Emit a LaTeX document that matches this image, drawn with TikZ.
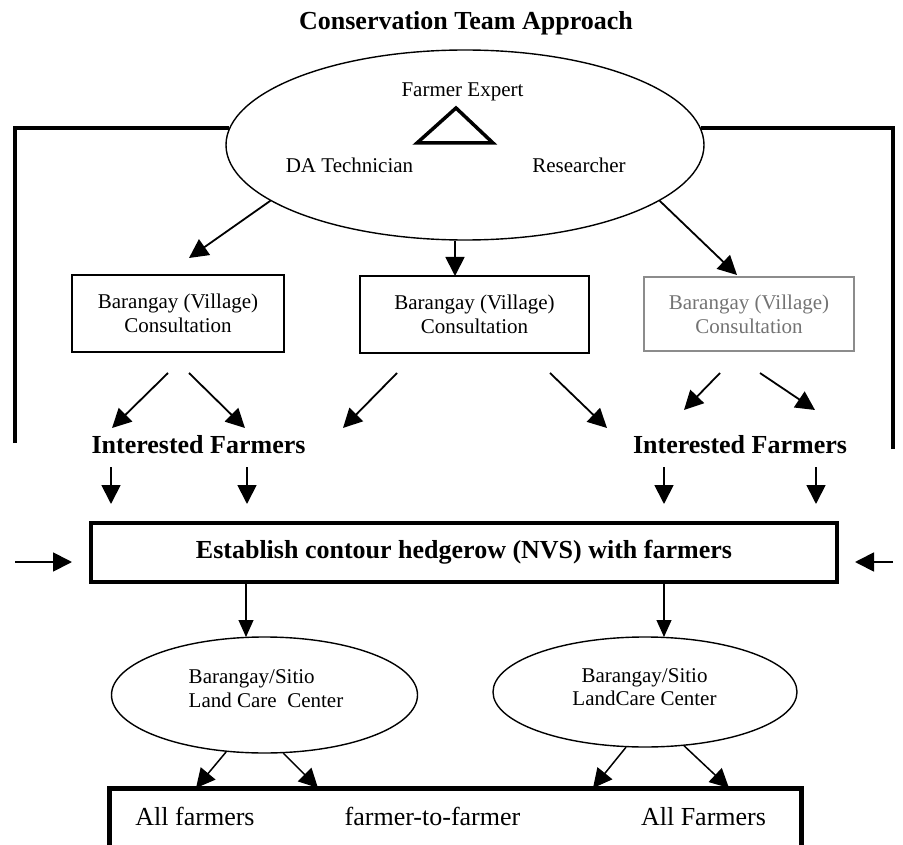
\documentclass[tikz,border=0pt]{standalone}
\usepackage{fontspec}
\setmainfont{Liberation Serif}
\usetikzlibrary{arrows.meta,shapes.geometric}
\newcommand\fsreg{\fontsize{21}{24}\selectfont}
\newcommand\fsbig{\fontsize{26}{30}\selectfont}
\begin{document}
\begin{tikzpicture}[x=1pt,y=-1pt,
		arr/.style={line width=1.8pt,-{Triangle[length=19pt,width=19pt]}},
		thinarr/.style={line width=1.1pt,-{Triangle[length=17pt,width=15pt]}},
		frame/.style={line width=4pt,line join=miter},
		cbox/.style={draw,line width=1.8pt,minimum width=212pt,minimum height=77pt,inner sep=0pt,align=center,font=\fsreg},
		lbl/.style={anchor=base,inner sep=0pt,font=\fsreg}]
		\useasboundingbox (0,0) rectangle (903,845);
		% team
		\node[lbl,font=\fsbig\bfseries] (title) at (466,30) {Conservation Team Approach};
		\node[draw,ellipse,line width=1.4pt,minimum width=478pt,minimum height=190pt,inner sep=0pt] (team) at (465,145) {};
		\node[lbl] (expert) at (462.5,97) {Farmer Expert};
		\node[lbl] (tech) at (349.5,173) {DA Technician};
		\node[lbl] (res) at (579,173) {Researcher};
		\draw[line width=3.5pt,line join=miter] (456,108)--(493,143)--(417,143)--cycle;
		\coordinate (lend) at (15,443);
		\coordinate (rend) at (893,449);
		\draw[frame] (lend) |- (team.176);
		\draw[frame] (rend) |- (team.4);
		% consultation
		\node[cbox] (vil1) at (178,313.5) {Barangay (Village)\\Consultation};
		\node[cbox,minimum width=229pt,line width=2.4pt] (vil2) at (474.5,314.5) {Barangay (Village)\\Consultation};
		\node[cbox,minimum width=210pt,minimum height=74pt,draw=black!45,text=black!55] (vil3) at (749,314) {Barangay (Village)\\Consultation};
		\coordinate (t1) at (189,258);
		\coordinate (t2) at (455,276);
		\coordinate (t3) at (737,275);
		\draw[arr] (team.196) -- (t1);
		\draw[arr] (t2 |- team.south) -- (t2);
		\draw[arr] (team.344) -- (t3);
		% interested farmers
		\node[lbl,font=\fsbig\bfseries] (intL) at (198.5,453) {Interested Farmers};
		\node[lbl,font=\fsbig\bfseries] (intR) at (740,453) {Interested Farmers};
		\foreach \Point/\Name in {(168,373)/a1,(112,428)/b1,(189,373)/a2,(245,428)/b2,(397,373)/a3,(343,428)/b3,(550,373)/a4,(607,428)/b4,(720,373)/a5,(684,410)/b5,(760,373)/a6,(815,410)/b6,
			(111,467)/c1,(111,504)/d1,(247,467)/c2,(247,504)/d2,(664,467)/c3,(664,504)/d3,(816,467)/c4,(816,504)/d4,
			(15,562)/c5,(72,562)/d5,(893,562)/c6,(855,562)/d6}
		\path \Point coordinate (\Name);
		\foreach \From/\To in {a1/b1,a2/b2,a3/b3,a4/b4,a5/b5,a6/b6,c1/d1,c2/d2,c3/d3,c4/d4,c5/d5,c6/d6}
		\draw[arr] (\From) -- (\To);
		% hedgerow
		\node[draw,line width=4pt,minimum width=746pt,minimum height=59pt,inner sep=0pt,font=\fsbig\bfseries] (hedge) at (464,552.5) {Establish contour hedgerow (NVS) with farmers};
		% land care centers
		\node[draw,ellipse,line width=1.4pt,minimum width=306pt,minimum height=116pt,inner sep=0pt] (lcL) at (264.5,695) {};
		\node[draw,ellipse,line width=1.4pt,minimum width=304pt,minimum height=110pt,inner sep=0pt] (lcR) at (645,692) {};
		\node[inner sep=0pt,align=left,font=\fsreg] (txL) at (266,688.75) {Barangay/Sitio\\Land Care\ \ Center};
		\node[inner sep=0pt,align=center,font=\fontsize{21}{23}\selectfont] (txR) at (644.5,687.25) {Barangay/Sitio\\LandCare Center};
		\coordinate (g1) at (246,637);
		\coordinate (g2) at (664,637);
		\draw[thinarr] (hedge.south -| g1) -- (g1);
		\draw[thinarr] (hedge.south -| g2) -- (g2);
		% all farmers
		\node[draw,line width=5pt,minimum width=692pt,minimum height=72pt,inner sep=0pt] (farm) at (455,824) {};
		\node[lbl,font=\fsbig] (all1) at (195,825) {All farmers};
		\node[lbl,font=\fsbig] (f2f) at (432.5,825) {farmer-to-farmer};
		\node[lbl,font=\fsbig] (all2) at (703.5,825) {All Farmers};
		\coordinate (e1) at (196,788);
		\coordinate (e2) at (318,788);
		\coordinate (e3) at (593,788);
		\coordinate (e4) at (729,788);
		\draw[arr,line width=1.5pt] (lcL.236) -- (e1);
		\draw[arr,line width=1.5pt] (lcL.288) -- (e2);
		\draw[arr,line width=1.5pt] (lcR.251) -- (e3);
		\draw[arr,line width=1.5pt] (lcR.306) -- (e4);
	\end{tikzpicture}
\end{document}
